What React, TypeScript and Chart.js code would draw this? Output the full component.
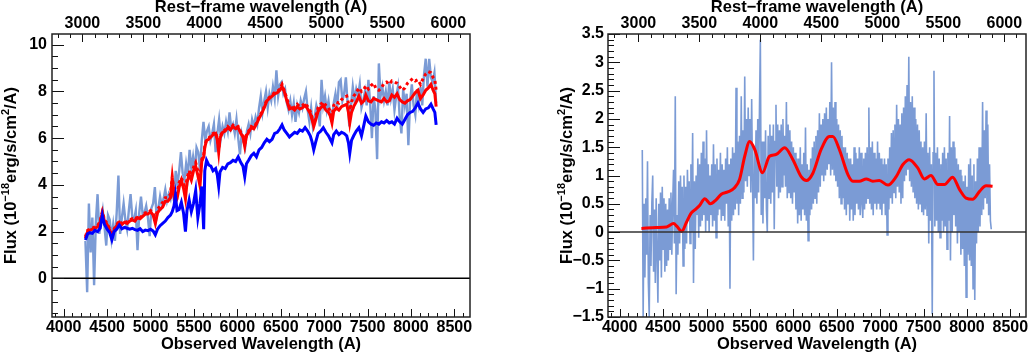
import React, { useEffect, useRef } from 'react';
import { Chart, registerables } from 'chart.js';

Chart.register(...registerables);

// ---------- data ----------
const REDSHIFT = 0.405;
const OBS_MIN = 3865;
const OBS_MAX = 8680;

// Left panel: observed spectrum (light blue), 20 A sampling from 4250 A
const LEFT_OBS_START = 4250;
const LEFT_OBS_STEP = 20;
const leftObsFlux = [
  1.6, -0.6, 3.2, 1.1, 2.6, -0.3, 2.4, 3.6, 1.9, 2.4,
  2.9, 2.2, 1.4, 2.7, 2.5, 1.7, 2.3, 1.6, 2.8, 4.4,
  1.9, 2.6, 3.2, 2.5, 2.1, 2.9, 3.6, 2.6, 2.5, 2.9,
  1.2, 2.8, 3.5, 2.7, 2.8, 3.1, 2.6, 1.8, 3.0, 3.2,
  3.9, 2.6, 3.0, 3.5, 3.1, 3.4, 3.8, 3.3, 3.6, 3.4,
  3.9, 3.3, 4.6, 4.0, 4.6, 5.4, 4.5, 4.2, 4.9, 4.4,
  5.5, 4.7, 5.2, 4.6, 5.6, 5.4, 4.6, 5.9, 6.7, 5.9,
  6.3, 6.5, 5.9, 6.2, 6.6, 5.4, 6.2, 6.8, 6.0, 6.5,
  6.2, 6.7, 6.3, 7.1, 6.4, 6.6, 6.2, 6.8, 6.0, 5.3,
  6.2, 5.9, 5.6, 6.3, 6.6, 6.2, 6.8, 6.5, 6.9, 6.6,
  7.3, 7.8, 7.1, 7.6, 8.0, 7.3, 7.9, 7.6, 8.2, 7.7,
  8.9, 7.8, 8.3, 8.4, 7.9, 8.1, 7.5, 7.2, 7.6, 7.0,
  7.5, 6.7, 7.4, 7.1, 7.6, 7.3, 7.7, 8.0, 7.2, 6.7,
  7.3, 6.5, 6.9, 7.4, 7.1, 6.5, 8.5, 7.4, 7.8, 7.2,
  7.6, 7.0, 6.8, 7.5, 7.9, 7.3, 8.4, 8.5, 7.6, 7.9,
  8.6, 7.5, 6.5, 7.4, 8.2, 7.6, 8.1, 7.8, 8.3, 7.3,
  7.6, 8.0, 7.4, 8.5, 7.5, 6.0, 7.8, 7.2, 5.1, 9.2,
  7.8, 8.2, 7.6, 8.0, 7.4, 8.4, 7.7, 8.1, 7.2, 7.8,
  8.2, 6.9, 6.2, 8.1, 7.4, 7.9, 5.7, 7.6, 8.3, 7.4,
  7.0, 8.1, 7.5, 8.2, 7.4, 8.7, 9.4, 8.2, 9.4, 8.6,
  8.4, 8.8, 7.5,
];

// Left panel: model spectra
const modelWave = [
  4250, 4275, 4300, 4330, 4360, 4390, 4420, 4445, 4470, 4500,
  4530, 4555, 4580, 4610, 4640, 4670, 4700, 4730, 4760, 4790,
  4820, 4850, 4880, 4910, 4940, 4970, 5000, 5030, 5055, 5080,
  5110, 5140, 5170, 5200, 5230, 5250, 5270, 5287, 5305, 5330,
  5355, 5380, 5402, 5420, 5445, 5470, 5495, 5520, 5545, 5570,
  5590, 5612, 5625, 5645, 5670, 5695, 5720, 5750, 5770, 5785,
  5800, 5830, 5860, 5890, 5920, 5950, 5980, 6010, 6040, 6065,
  6085, 6105, 6130, 6160, 6190, 6220, 6250, 6280, 6310, 6340,
  6370, 6400, 6430, 6460, 6490, 6515, 6540, 6570, 6600, 6630,
  6660, 6690, 6720, 6750, 6780, 6810, 6840, 6860, 6880, 6900,
  6930, 6960, 6990, 7020, 7050, 7070, 7090, 7110, 7140, 7170,
  7200, 7230, 7260, 7280, 7295, 7315, 7340, 7370, 7400, 7430,
  7460, 7480, 7510, 7540, 7570, 7600, 7630, 7660, 7690, 7720,
  7750, 7780, 7810, 7840, 7870, 7900, 7930, 7960, 7990, 8020,
  8050, 8080, 8110, 8140, 8170, 8200, 8230, 8255, 8275, 8290,
];
const blueModel = [
  1.64, 1.90, 1.95, 1.92, 2.05, 2.00, 2.15, 2.70, 2.30, 2.10,
  1.95, 1.65, 2.00, 2.10, 2.28, 2.12, 2.18, 2.14, 2.10, 2.14,
  2.08, 2.05, 2.12, 2.00, 2.06, 2.04, 2.10, 2.02, 1.86, 2.10,
  2.25, 2.35, 2.45, 2.60, 2.70, 2.85, 3.10, 3.55, 2.90, 2.95,
  3.25, 2.80, 2.00, 2.90, 3.35, 2.85, 3.20, 3.75, 2.60, 3.20,
  3.93, 2.10, 4.60, 5.05, 4.85, 4.80, 4.60, 4.70, 4.40, 3.95,
  4.55, 4.75, 4.70, 4.90, 4.95, 5.05, 5.00, 5.20, 4.95, 4.80,
  4.35, 4.90, 5.05, 5.25, 5.35, 5.20, 5.50, 5.60, 5.80, 5.95,
  5.85, 5.95, 6.20, 6.25, 6.40, 6.57, 6.35, 6.20, 6.05, 6.15,
  6.25, 6.20, 6.35, 6.30, 6.45, 6.30, 6.10, 5.85, 5.50, 5.80,
  6.20, 6.30, 6.45, 6.25, 6.10, 5.95, 5.80, 6.15, 6.30, 6.15,
  6.25, 6.20, 6.10, 5.80, 5.36, 5.90, 6.10, 6.30, 6.45, 6.10,
  6.60, 6.95, 6.70, 6.60, 6.55, 6.65, 6.60, 6.70, 6.65, 6.75,
  6.65, 6.70, 6.60, 6.85, 6.70, 6.60, 6.80, 7.00, 7.10, 7.15,
  7.30, 7.50, 7.25, 7.10, 7.25, 7.30, 7.45, 7.25, 7.10, 6.57,
];
const redModel = [
  1.71, 2.00, 2.05, 2.10, 2.15, 2.20, 2.40, 2.80, 2.45, 2.30,
  2.05, 1.75, 2.05, 2.25, 2.40, 2.30, 2.40, 2.35, 2.45, 2.50,
  2.45, 2.60, 2.55, 2.65, 2.75, 2.75, 2.85, 2.70, 2.35, 2.80,
  2.95, 3.05, 3.30, 3.30, 3.45, 4.30, 3.50, 3.25, 3.40, 3.90,
  4.20, 3.85, 3.40, 4.10, 4.45, 4.20, 4.60, 4.80, 4.40, 3.95,
  5.00, 5.20, 5.60, 5.90, 5.95, 6.05, 6.15, 6.20, 5.90, 5.40,
  6.00, 6.25, 6.30, 6.45, 6.35, 6.50, 6.40, 6.45, 6.20, 6.05,
  5.65, 6.10, 6.25, 6.45, 6.40, 6.60, 6.85, 7.05, 7.30, 7.60,
  7.70, 7.80, 7.90, 7.95, 8.05, 8.20, 8.00, 7.60, 7.25, 7.30,
  7.20, 7.35, 7.25, 7.30, 7.40, 7.25, 7.05, 6.80, 6.50, 6.75,
  7.15, 7.30, 7.40, 7.20, 7.10, 6.95, 6.65, 7.15, 7.30, 7.20,
  7.35, 7.40, 7.45, 7.10, 6.65, 7.10, 7.35, 7.55, 7.80, 7.50,
  7.60, 7.85, 7.60, 7.55, 7.70, 7.65, 7.60, 7.55, 7.70, 7.55,
  7.60, 7.85, 7.75, 7.90, 7.65, 7.55, 7.50, 7.60, 7.65, 7.80,
  7.95, 8.05, 7.70, 7.85, 8.05, 8.15, 8.30, 8.05, 7.90, 7.35,
];
const redDotModel = [
  1.78, 2.05, 2.10, 2.15, 2.20, 2.25, 2.45, 2.85, 2.50, 2.35,
  2.10, 1.80, 2.10, 2.30, 2.45, 2.35, 2.45, 2.40, 2.50, 2.55,
  2.50, 2.65, 2.60, 2.70, 2.80, 2.80, 2.90, 2.80, 2.50, 2.95,
  3.10, 3.25, 3.45, 3.45, 3.60, 4.35, 3.70, 3.50, 3.60, 4.10,
  4.30, 4.05, 3.70, 4.30, 4.60, 4.40, 4.75, 4.95, 4.60, 4.25,
  5.10, 5.25, 5.65, 5.95, 6.00, 6.10, 6.20, 6.25, 6.00, 5.50,
  6.05, 6.30, 6.35, 6.50, 6.40, 6.55, 6.45, 6.50, 6.25, 6.10,
  5.70, 6.15, 6.30, 6.50, 6.45, 6.65, 6.90, 7.10, 7.35, 7.65,
  7.75, 7.85, 7.95, 8.00, 8.10, 8.30, 8.05, 7.70, 7.35, 7.40,
  7.30, 7.45, 7.35, 7.40, 7.50, 7.35, 7.15, 6.90, 6.60, 6.90,
  7.30, 7.45, 7.55, 7.40, 7.30, 7.15, 6.95, 7.40, 7.55, 7.50,
  7.65, 7.75, 7.80, 7.50, 7.20, 7.55, 7.80, 7.95, 8.15, 8.00,
  8.10, 8.25, 8.10, 8.25, 8.35, 8.10, 8.05, 8.15, 8.35, 8.40,
  8.30, 8.45, 8.40, 8.35, 8.20, 8.05, 8.15, 8.35, 8.45, 8.55,
  8.45, 8.50, 8.30, 8.55, 8.75, 8.85, 8.80, 8.60, 8.50, 8.05,
];

// Right panel: residual spectrum (light blue), 10 A sampling from 4260 A
const RIGHT_OBS_START = 4260;
const RIGHT_OBS_STEP = 10;
const rightObsFlux = [
  1.45, -1.5, 0.5, -0.8, 0.6, -0.4, 1.25, -0.9, -1.5, 0.3,
  -0.6, 0.5, 1.0, -0.7, 0.4, -0.9, 0.6, -0.4, -1.25, 0.5,
  -0.5, 0.7, -0.8, 0.8, -0.3, 0.6, -0.7, 0.5, -0.6, 0.4,
  -0.5, 0.6, -0.3, 0.7, -0.4, 0.5, 1.1, -0.2, 2.4, -1.1,
  0.3, -0.4, 0.9, -0.2, 1.0, 0.0, 0.8, -0.6, 1.0, -0.3,
  0.8, -0.2, 1.1, 0.2, 0.9, -0.2, 1.2, 0.0, 1.75, -0.9,
  0.9, -0.3, 1.0, 0.3, 1.3, -0.1, 1.2, 0.1, 1.4, 0.2,
  1.6, 0.3, 1.3, 0.0, 1.8, 0.2, 1.2, 0.0, 1.0, 0.3,
  1.2, 0.1, 1.55, 0.2, 1.2, -0.1, 1.3, 0.3, 1.1, 0.4,
  1.4, 0.2, 1.2, 0.3, 1.1, 0.2, 1.3, 0.5, 1.5, 0.1,
  1.2, -1.0, 1.3, 0.2, 1.5, 0.3, 1.4, 0.4, 2.55, 0.5,
  1.6, 0.3, 1.7, 0.5, 2.4, 0.6, 1.8, 0.7, 2.75, 0.9,
  2.0, 0.8, 2.2, 1.0, 2.0, 0.7, 2.35, 0.9, -0.5, 1.5,
  0.6, 1.8, 0.5, 2.0, 0.7, 2.2, 3.4, 0.3, 1.6, 0.15,
  1.6, 0.6, 1.8, 0.4, 0.0, 1.7, 0.6, 1.9, 0.5, 1.7,
  0.7, 1.9, 0.05, 1.6, 2.25, 0.8, 1.9, 0.6, 1.8, 0.7,
  1.9, 0.8, 2.0, 1.0, 1.7, 0.8, 2.3, 0.6, 1.9, 0.7,
  1.8, 0.6, 1.6, 0.5, 1.5, 0.7, 1.4, 0.4, 1.3, 0.15,
  1.3, 0.3, 1.5, 0.2, 1.2, 0.4, 1.4, 0.3, 1.85, 0.2,
  1.2, -0.15, 1.1, 0.3, 1.3, 0.4, 1.5, 0.5, 1.6, 0.6,
  1.7, 0.5, 1.8, 0.7, 2.1, 0.8, 1.9, 1.0, 2.0, 0.9,
  2.1, 1.0, 2.2, 1.1, 2.0, 1.2, 2.3, 1.0, 3.0, 1.1,
  2.2, 1.0, 2.3, 0.9, 2.0, 0.8, 1.9, 0.6, 1.8, 0.5,
  1.7, 0.6, 1.5, 0.4, 1.5, 0.3, 1.4, 0.5, 1.3, 0.2,
  1.3, 0.4, 1.2, 0.2, 1.5, 0.3, 1.4, 0.5, 1.3, 0.4,
  1.5, 0.3, 1.4, 0.5, 0.25, 1.3, 0.4, 1.4, 0.5, 1.5,
  0.6, 2.2, 0.5, 1.5, 0.4, 1.6, 0.3, 1.4, 0.5, 1.3,
  0.4, 1.6, 0.5, 1.4, 0.4, 1.3, 0.3, 1.2, 0.5, 1.3,
  0.3, 1.2, -0.05, 1.3, 0.4, 1.5, 0.6, 1.75, 0.5, 1.8,
  0.7, 1.9, 0.6, 2.25, 0.8, 2.0, 0.7, 1.9, 0.5, 2.1,
  0.6, 2.2, 0.9, 2.4, 1.0, 2.6, 1.1, 3.1, 0.9, 2.3,
  0.8, 2.4, 0.7, 2.2, 0.6, 2.0, 0.5, 1.9, 0.4, 1.8,
  0.5, 1.6, 0.35, 1.5, 0.3, 1.6, 0.4, 2.1, 0.3, 1.4,
  -0.2, 1.5, 0.2, 1.2, -1.45, 1.4, 2.85, 0.1, 1.4, 0.2,
  1.5, 0.0, 1.3, -0.1, 1.2, 0.2, 1.4, 0.0, 1.5, 0.1,
  1.3, -0.3, 1.4, 0.2, 2.05, -0.5, 1.5, 0.0, 1.6, 0.3,
  1.5, 0.1, 1.3, -0.2, 1.2, 0.0, 1.1, -0.4, 1.0, -0.3,
  0.9, -0.6, 1.0, -1.15, 0.8, -0.4, 1.2, -0.5, 1.3, -0.6,
  1.0, -1.0, 1.2, -1.2, 0.9, -0.2, 1.3, 0.0, 1.5, 0.1,
  1.5, 0.3, 2.3, 0.4, 1.8, 0.6, 2.15, 0.5, 1.9, 0.3,
  1.2, 0.2, 0.05,
];

// Right panel: smoothed residual (red)
const smoothWave = [
  4250, 4420, 4540, 4620, 4660, 4715, 4765, 4825, 4880, 4920,
  4980, 5045, 5110, 5170, 5245, 5320, 5380, 5440, 5497, 5555,
  5645, 5725, 5800, 5900, 5995, 6090, 6150, 6225, 6320, 6415,
  6455, 6530, 6630, 6685, 6760, 6840, 6915, 6990, 7090, 7185,
  7260, 7335, 7435, 7510, 7585, 7665, 7740, 7835, 7915, 7990,
  8065, 8145, 8220, 8295,
];
const smoothFlux = [
  0.065, 0.08, 0.09, 0.15, 0.1, 0.01, 0.16, 0.34, 0.41, 0.47,
  0.59, 0.5, 0.57, 0.67, 0.71, 0.78, 0.93, 1.34, 1.6, 1.46,
  1.05, 1.34, 1.37, 1.49, 1.28, 0.98, 0.91, 1.04, 1.46, 1.69,
  1.69, 1.46, 1.01, 0.9, 0.9, 0.94, 0.9, 0.91, 0.83, 0.98,
  1.19, 1.28, 1.13, 0.94, 1.0, 0.84, 0.84, 0.97, 0.75, 0.6,
  0.58, 0.72, 0.82, 0.81,
];

// Tick labels
const obsTicks = [4000, 4500, 5000, 5500, 6000, 6500, 7000, 7500, 8000, 8500];
const restTicks = [3000, 3500, 4000, 4500, 5000, 5500, 6000];
const leftYTicks = [0, 2, 4, 6, 8, 10];
const rightYTicks = [-1.5, -1, -0.5, 0, 0.5, 1, 1.5, 2, 2.5, 3, 3.5];

// ---------- styling ----------
const FAMILY = '"Liberation Sans", Arial, Helvetica, sans-serif';
const tickFont = { family: FAMILY, size: 16, weight: 'bold' as const };
const titleFont = { family: FAMILY, size: 16.5, weight: 'bold' as const, lineHeight: 1.2 };
const LIGHT_BLUE = '#7b9bd5';

const fmt = (v: number) => (v < 0 ? '\u2212' + String(Math.abs(v)) : String(v));

function framePlugin(opts: {
  yMinorStep: number;
  yMajors: number[];
  zeroColor: string;
  titleX: number;
}) {
  return {
    id: 'frameTicks',
    afterDatasetsDraw(chart: any) {
      const { ctx, chartArea: a, scales } = chart;
      const y0 = scales.y.getPixelForValue(0);
      ctx.save();
      ctx.strokeStyle = opts.zeroColor;
      ctx.lineWidth = 1.5;
      ctx.beginPath();
      ctx.moveTo(a.left, y0);
      ctx.lineTo(a.right, y0);
      ctx.stroke();
      ctx.restore();
    },
    afterDraw(chart: any) {
      const { ctx, chartArea: a, scales } = chart;
      ctx.save();
      ctx.strokeStyle = '#111';
      ctx.lineWidth = 1;
      const isMajor = (list: number[], v: number) => list.some((m) => Math.abs(m - v) < 1e-6);
      const xs = scales.x;
      for (let k = Math.ceil(xs.min / 100); k * 100 <= xs.max; k++) {
        const v = k * 100;
        const px = Math.round(xs.getPixelForValue(v)) + 0.5;
        const len = isMajor(obsTicks, v) ? 8 : 4;
        ctx.beginPath();
        ctx.moveTo(px, a.bottom);
        ctx.lineTo(px, a.bottom - len);
        ctx.stroke();
      }
      const xt = scales.xTop;
      for (let k = Math.ceil(xt.min / 100); k * 100 <= xt.max; k++) {
        const v = k * 100;
        const px = Math.round(xt.getPixelForValue(v)) + 0.5;
        const len = isMajor(restTicks, v) ? 8 : 4;
        ctx.beginPath();
        ctx.moveTo(px, a.top);
        ctx.lineTo(px, a.top + len);
        ctx.stroke();
      }
      const ys = scales.y;
      const st = opts.yMinorStep;
      for (let k = Math.ceil(ys.min / st - 1e-9); k * st <= ys.max + 1e-9; k++) {
        const v = k * st;
        const py = Math.round(ys.getPixelForValue(v)) + 0.5;
        const len = isMajor(opts.yMajors, v) ? 12 : 6;
        ctx.beginPath();
        ctx.moveTo(a.left, py);
        ctx.lineTo(a.left + len, py);
        ctx.stroke();
      }
      ctx.strokeStyle = '#222';
      ctx.lineWidth = 1.5;
      ctx.strokeRect(a.left, a.top, a.right - a.left, a.bottom - a.top);
      ctx.restore();

      // y axis title with superscripts
      const segs: [string, boolean][] = [
        ['Flux (10', false],
        ['\u221218', true],
        ['erg/s/cm', false],
        ['2', true],
        ['/A)', false],
      ];
      const big = `bold 16.5px ${FAMILY}`;
      const small = `bold 11px ${FAMILY}`;
      ctx.save();
      let total = 0;
      const widths = segs.map(([t, sup]) => {
        ctx.font = sup ? small : big;
        const w = ctx.measureText(t).width;
        total += w;
        return w;
      });
      const cy = (a.top + a.bottom) / 2;
      ctx.translate(opts.titleX, cy);
      ctx.rotate(-Math.PI / 2);
      ctx.fillStyle = '#000';
      ctx.textAlign = 'left';
      ctx.textBaseline = 'middle';
      let x = -total / 2;
      segs.forEach(([t, sup], i) => {
        ctx.font = sup ? small : big;
        ctx.fillText(t, x, sup ? -6 : 0);
        x += widths[i];
      });
      ctx.restore();
    },
  };
}

function xScales() {
  return {
    x: {
      type: 'linear',
      position: 'bottom',
      min: OBS_MIN,
      max: OBS_MAX,
      afterBuildTicks: (s: any) => {
        s.ticks = obsTicks.map((v) => ({ value: v }));
      },
      afterFit: (s: any) => {
        s.height = 37;
      },
      grid: { display: false, drawTicks: false },
      border: { display: false },
      ticks: { font: tickFont, color: '#000', padding: 1, maxRotation: 0, autoSkip: false, callback: (v: number) => fmt(v) },
      title: { display: true, text: 'Observed Wavelength (A)', font: titleFont, color: '#000', padding: { top: 0, bottom: 0 } },
    },
    xTop: {
      type: 'linear',
      position: 'top',
      min: OBS_MIN / (1 + REDSHIFT),
      max: OBS_MAX / (1 + REDSHIFT),
      afterBuildTicks: (s: any) => {
        s.ticks = restTicks.map((v) => ({ value: v }));
      },
      afterFit: (s: any) => {
        s.height = 34;
      },
      grid: { display: false, drawTicks: false },
      border: { display: false },
      ticks: { font: tickFont, color: '#000', padding: 1, maxRotation: 0, autoSkip: false, callback: (v: number) => fmt(v) },
      title: { display: true, text: 'Rest\u2212frame wavelength (A)', font: titleFont, color: '#000', padding: { top: -2, bottom: 0 } },
    },
  };
}

function leftConfig(): any {
  const obs = leftObsFlux.map((y, i) => ({ x: LEFT_OBS_START + i * LEFT_OBS_STEP, y }));
  const blue = modelWave.map((x, i) => ({ x, y: blueModel[i] }));
  const red = modelWave.map((x, i) => ({ x, y: redModel[i] }));
  const redDot = modelWave.map((x, i) => ({ x, y: redDotModel[i] }));
  const common = { pointRadius: 0, tension: 0, fill: false };
  return {
    type: 'line',
    data: {
      datasets: [
        { ...common, label: 'Model (blue)', data: blue, borderColor: '#0000ff', borderWidth: 3 },
        { ...common, label: 'Model (red)', data: red, borderColor: '#ff0000', borderWidth: 3 },
        { ...common, label: 'Model (red, dotted)', data: redDot, borderColor: '#ff0000', borderWidth: 3, borderDash: [3, 3] },
        { ...common, label: 'Observed', data: obs, borderColor: LIGHT_BLUE, borderWidth: 2.4 },
      ],
    },
    options: {
      responsive: false,
      animation: false,
      devicePixelRatio: 1,
      layout: { padding: { left: 0, right: 45, top: 0, bottom: 0 } },
      plugins: { legend: { display: false }, tooltip: { enabled: false } },
      scales: {
        ...xScales(),
        y: {
          type: 'linear',
          min: -1.66,
          max: 10.46,
          afterBuildTicks: (s: any) => {
            s.ticks = leftYTicks.map((v) => ({ value: v }));
          },
          afterFit: (s: any) => {
            s.width = 52;
          },
          grid: { display: false, drawTicks: false },
          border: { display: false },
          ticks: { font: tickFont, color: '#000', padding: 5, autoSkip: false, callback: (v: number) => fmt(v) },
        },
      },
    },
    plugins: [framePlugin({ yMinorStep: 0.5, yMajors: leftYTicks, zeroColor: '#000', titleX: 11.5 })],
  };
}

function rightConfig(): any {
  const obs = rightObsFlux.map((y, i) => ({ x: RIGHT_OBS_START + i * RIGHT_OBS_STEP, y }));
  const smooth = smoothWave.map((x, i) => ({ x, y: smoothFlux[i] }));
  return {
    type: 'line',
    data: {
      datasets: [
        { label: 'Smoothed residual', data: smooth, borderColor: '#ff0000', borderWidth: 3, pointRadius: 0, cubicInterpolationMode: 'monotone', fill: false },
        { label: 'Residual', data: obs, borderColor: LIGHT_BLUE, borderWidth: 1.6, pointRadius: 0, tension: 0, fill: false },
      ],
    },
    options: {
      responsive: false,
      animation: false,
      devicePixelRatio: 1,
      layout: { padding: { left: 0, right: 4, top: 0, bottom: 0 } },
      plugins: { legend: { display: false }, tooltip: { enabled: false } },
      scales: {
        ...xScales(),
        y: {
          type: 'linear',
          min: -1.5,
          max: 3.5,
          afterBuildTicks: (s: any) => {
            s.ticks = rightYTicks.map((v) => ({ value: v }));
          },
          afterFit: (s: any) => {
            s.width = 93;
          },
          grid: { display: false, drawTicks: false },
          border: { display: false },
          ticks: { font: tickFont, color: '#000', padding: 4, autoSkip: false, callback: (v: number) => fmt(v) },
        },
      },
    },
    plugins: [framePlugin({ yMinorStep: 0.1, yMajors: rightYTicks, zeroColor: '#333', titleX: 52.5 })],
  };
}

export default function App() {
  const leftRef = useRef<HTMLCanvasElement>(null);
  const rightRef = useRef<HTMLCanvasElement>(null);
  useEffect(() => {
    const c1 = new Chart(leftRef.current as HTMLCanvasElement, leftConfig());
    const c2 = new Chart(rightRef.current as HTMLCanvasElement, rightConfig());
    return () => {
      c1.destroy();
      c2.destroy();
    };
  }, []);
  return (
    <div style={{ position: 'absolute', left: 0, top: 0, width: 1030, height: 354, background: '#fff', overflow: 'hidden' }}>
      <canvas ref={leftRef} width={515} height={354} style={{ position: 'absolute', left: 0, top: 0, width: 515, height: 354 }} />
      <canvas ref={rightRef} width={515} height={354} style={{ position: 'absolute', left: 515, top: 0, width: 515, height: 354 }} />
    </div>
  );
}
